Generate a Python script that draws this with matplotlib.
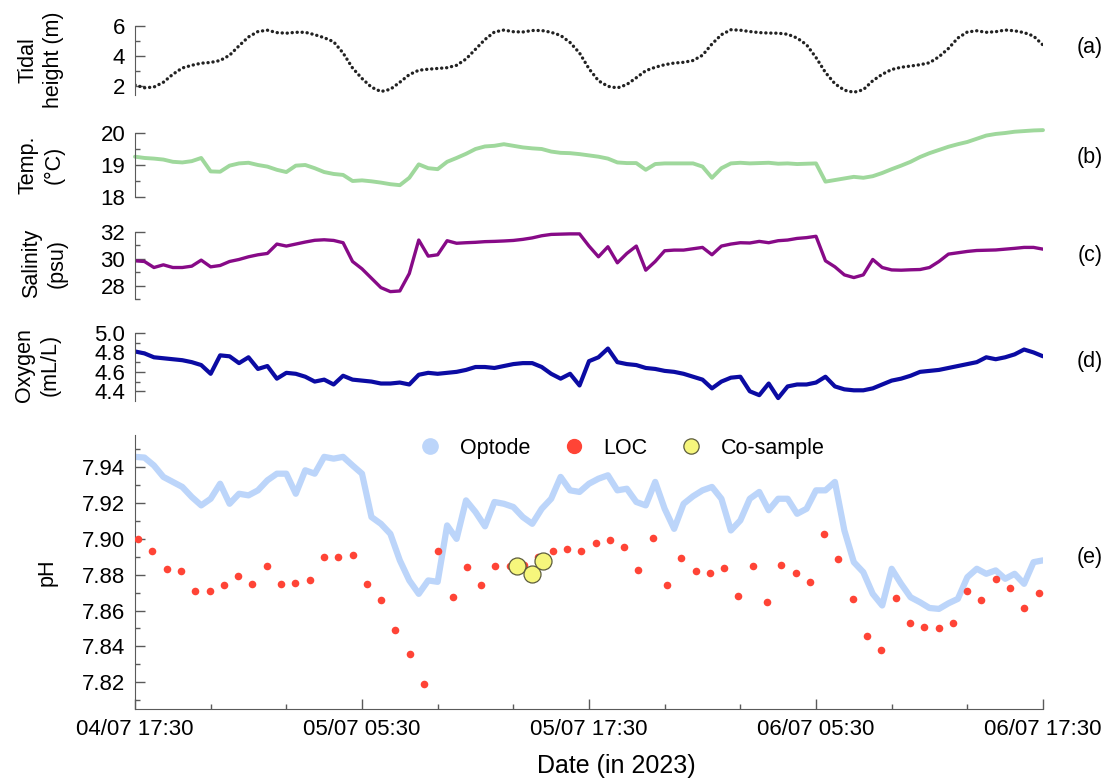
import numpy as np
import pandas as pd
import matplotlib
matplotlib.use("Agg")
import matplotlib.pyplot as plt
import matplotlib.dates as mdates
from matplotlib.lines import Line2D

plt.rcParams['font.family'] = ['Liberation Sans', 'DejaVu Sans']

# ---- data (half-hourly sensor readings, 04/07 17:30 -> 06/07 17:30) ----
t_start = '2023-07-04 17:30'

tide_m = [
    2.07, 1.88, 1.93, 2.25, 2.78, 3.20, 3.38, 3.52, 3.57, 3.70,
    4.05, 4.68, 5.27, 5.63, 5.72, 5.56, 5.52, 5.58, 5.58, 5.42,
    5.22, 4.95, 4.20, 3.20, 2.50, 1.92, 1.63, 1.78, 2.25, 2.76,
    3.05, 3.12, 3.17, 3.22, 3.38, 3.80, 4.45, 5.10, 5.60, 5.73,
    5.62, 5.60, 5.70, 5.70, 5.58, 5.37, 4.90, 4.20, 3.15, 2.35,
    1.98, 1.87, 2.10, 2.55, 3.02, 3.25, 3.42, 3.53, 3.58, 3.70,
    4.05, 4.80, 5.42, 5.75, 5.72, 5.63, 5.56, 5.53, 5.52, 5.45,
    5.20, 4.75, 3.90, 2.90, 2.15, 1.72, 1.58, 1.75, 2.35, 2.78,
    3.10, 3.25, 3.33, 3.42, 3.55, 3.95, 4.50, 5.20, 5.60, 5.68,
    5.58, 5.62, 5.73, 5.68, 5.56, 5.33, 4.73,
]

temp_c = [
    19.26, 19.22, 19.20, 19.17, 19.10, 19.08, 19.12, 19.22, 18.80, 18.79,
    18.98, 19.05, 19.07, 19.00, 18.95, 18.85, 18.78, 18.98, 19.00, 18.90,
    18.78, 18.72, 18.69, 18.50, 18.52, 18.49, 18.45, 18.40, 18.37, 18.60,
    19.02, 18.90, 18.87, 19.10, 19.22, 19.35, 19.50, 19.58, 19.60, 19.65,
    19.60, 19.55, 19.52, 19.50, 19.42, 19.38, 19.37, 19.34, 19.30, 19.26,
    19.20, 19.08, 19.06, 19.06, 18.85, 19.03, 19.05, 19.05, 19.05, 19.05,
    18.95, 18.60, 18.90, 19.05, 19.07, 19.05, 19.06, 19.07, 19.04, 19.05,
    19.03, 19.04, 19.05, 18.48, 18.53, 18.58, 18.63, 18.60, 18.65, 18.75,
    18.87, 18.98, 19.10, 19.25, 19.37, 19.47, 19.57, 19.65, 19.72, 19.82,
    19.92, 19.97, 20.00, 20.04, 20.06, 20.08, 20.09,
]

salinity_psu = [
    29.85, 29.80, 29.35, 29.55, 29.35, 29.35, 29.45, 29.90, 29.40, 29.50,
    29.80, 29.95, 30.15, 30.30, 30.40, 31.10, 30.95, 31.10, 31.25, 31.38,
    31.42, 31.37, 31.20, 29.80, 29.25, 28.55, 27.85, 27.55, 27.60, 28.90,
    31.40, 30.20, 30.30, 31.35, 31.16, 31.20, 31.23, 31.28, 31.30, 31.33,
    31.37, 31.45, 31.56, 31.72, 31.82, 31.84, 31.86, 31.86, 30.95, 30.15,
    30.90, 29.70, 30.40, 30.95, 29.15, 29.80, 30.60, 30.65, 30.65, 30.75,
    30.85, 30.30, 30.95, 31.10, 31.20, 31.18, 31.30, 31.20, 31.35, 31.40,
    31.52, 31.58, 31.68, 29.85, 29.40, 28.80, 28.60, 28.80, 29.95, 29.35,
    29.17, 29.15, 29.18, 29.20, 29.35, 29.80, 30.35, 30.45, 30.55, 30.62,
    30.64, 30.66, 30.72, 30.78, 30.85, 30.85, 30.72,
]

oxygen_mll = [
    4.81, 4.79, 4.75, 4.74, 4.73, 4.72, 4.70, 4.67, 4.58, 4.77,
    4.76, 4.69, 4.75, 4.63, 4.66, 4.53, 4.59, 4.58, 4.55, 4.50,
    4.52, 4.47, 4.56, 4.52, 4.51, 4.50, 4.48, 4.48, 4.49, 4.47,
    4.57, 4.59, 4.58, 4.59, 4.60, 4.62, 4.65, 4.65, 4.64, 4.66,
    4.68, 4.69, 4.69, 4.65, 4.58, 4.53, 4.58, 4.46, 4.71, 4.75,
    4.84, 4.70, 4.68, 4.67, 4.64, 4.63, 4.61, 4.60, 4.58, 4.55,
    4.52, 4.43, 4.50, 4.54, 4.55, 4.40, 4.36, 4.48, 4.33, 4.45,
    4.47, 4.47, 4.49, 4.55, 4.45, 4.42, 4.41, 4.41, 4.43, 4.47,
    4.51, 4.53, 4.56, 4.60, 4.61, 4.62, 4.64, 4.66, 4.68, 4.70,
    4.75, 4.73, 4.75, 4.78, 4.83, 4.80, 4.76,
]

ph_optode = [
    7.9458, 7.9454, 7.9410, 7.9346, 7.9318, 7.9290, 7.9234, 7.9187, 7.9224, 7.9308,
    7.9196, 7.9252, 7.9243, 7.9271, 7.9327, 7.9364, 7.9364, 7.9252, 7.9383, 7.9364,
    7.9458, 7.9448, 7.9458, 7.9410, 7.9364, 7.9122, 7.9084, 7.9028, 7.8880, 7.8768,
    7.8693, 7.8768, 7.8760, 7.9075, 7.9000, 7.9215, 7.9150, 7.9070, 7.9206, 7.9196,
    7.9178, 7.9122, 7.9084, 7.9168, 7.9224, 7.9346, 7.9271, 7.9262, 7.9308, 7.9336,
    7.9355, 7.9271, 7.9280, 7.9206, 7.9187, 7.9318, 7.9168, 7.9056, 7.9196, 7.9238,
    7.9271, 7.9290, 7.9224, 7.9047, 7.9103, 7.9224, 7.9262, 7.9160, 7.9224, 7.9224,
    7.9140, 7.9168, 7.9271, 7.9271, 7.9318, 7.9047, 7.8870, 7.8814, 7.8693, 7.8628,
    7.8833, 7.8749, 7.8674, 7.8646, 7.8614, 7.8609, 7.8640, 7.8665, 7.8786, 7.8833,
    7.8805, 7.8824, 7.8777, 7.8805, 7.8749, 7.8870, 7.8880,
]

# lab-on-chip pH samples (about every 45 min from 17:40)
ph_loc = [
    7.9000, 7.8930, 7.8830, 7.8820, 7.8710, 7.8710, 7.8745, 7.8790, 7.8750, 7.8846,
    7.8750, 7.8756, 7.8770, 7.8896, 7.8896, 7.8910, 7.8750, 7.8660, 7.8490, 7.8355,
    7.8187, 7.8930, 7.8674, 7.8842, 7.8745, 7.8850, 7.8850, 7.8855, 7.8896, 7.8930,
    7.8945, 7.8932, 7.8976, 7.8995, 7.8956, 7.8825, 7.9004, 7.8740, 7.8894, 7.8820,
    7.8808, 7.8835, 7.8680, 7.8851, 7.8650, 7.8855, 7.8812, 7.8760, 7.9029, 7.8889,
    7.8667, 7.8460, 7.8380, 7.8670, 7.8530, 7.8508, 7.8503, 7.8529, 7.8708, 7.8657,
    7.8775, 7.8723, 7.8613, 7.8700,
]

cosample_times = ['2023-07-05 13:42', '2023-07-05 14:30', '2023-07-05 15:04']
ph_cosample = [7.8851, 7.8804, 7.8874]

panel_tags = ['(a)', '(b)', '(c)', '(d)', '(e)']

# ---- time axes ----
t_sensor = pd.date_range(t_start, periods=len(tide_m), freq='30min')
t_loc = pd.date_range('2023-07-04 17:40', periods=len(ph_loc), freq='2720s')
t_co = pd.to_datetime(cosample_times)
t_major = pd.date_range(t_start, periods=5, freq='12h')
t_minor = pd.date_range(t_start, periods=13, freq='4h')

W, H = 1108, 781
fig = plt.figure(figsize=(W / 100, H / 100), dpi=100)


def box(top, bottom):
    # axes rectangle from pixel rows, shared left/right edges
    return [135 / W, 1 - bottom / H, (1043 - 135) / W, (bottom - top) / H]


spine_col = '#5a5a5a'


def style(ax, show_x=False):
    for s in ['top', 'right']:
        ax.spines[s].set_visible(False)
    ax.spines['left'].set_color(spine_col)
    ax.spines['bottom'].set_color(spine_col)
    ax.tick_params(which='both', direction='in', color=spine_col, width=1.0,
                   labelsize=16, pad=7)
    ax.tick_params(which='major', length=7)
    ax.tick_params(which='minor', length=3.5)
    ax.set_xlim(t_major[0], t_major[-1])
    ax.xaxis.set_major_locator(plt.FixedLocator(mdates.date2num(t_major)))
    ax.xaxis.set_minor_locator(plt.FixedLocator(mdates.date2num(t_minor)))
    if show_x:
        ax.xaxis.set_major_formatter(mdates.DateFormatter('%d/%m %H:%M'))
    else:
        ax.spines['bottom'].set_visible(False)
        ax.tick_params(axis='x', which='both', bottom=False, labelbottom=False)


ax_a = fig.add_axes(box(26, 95))
ax_b = fig.add_axes(box(133, 197))
ax_c = fig.add_axes(box(232, 299))
ax_d = fig.add_axes(box(333, 401))
ax_e = fig.add_axes(box(435, 709))

band = dict(solid_joinstyle='round', solid_capstyle='round')

# (a) tidal height
ax_a.plot(t_sensor, tide_m, color='#222222', lw=2.4, linestyle=(0, (0.05, 1.45)),
          dash_capstyle='round')
ax_a.set_ylim(1.4, 6.0)
ax_a.set_yticks([2, 4, 6])
ax_a.set_yticks([3, 5], minor=True)
style(ax_a)

# (b) temperature
ax_b.plot(t_sensor, temp_c, color='#9fd89c', lw=2.8, clip_on=False, **band)
ax_b.set_ylim(18, 20)
ax_b.set_yticks([18, 19, 20])
ax_b.set_yticks([18.5, 19.5], minor=True)
style(ax_b)

# (c) salinity
ax_c.plot(t_sensor, salinity_psu, color='#870a87', lw=2.4, **band)
ax_c.set_ylim(27, 32)
ax_c.set_yticks([28, 30, 32])
ax_c.set_yticks([27, 29, 31], minor=True)
style(ax_c)

# (d) dissolved oxygen
ax_d.plot(t_sensor, oxygen_mll, color='#0b0ba3', lw=3.0, **band)
ax_d.set_ylim(4.3, 5.0)
ax_d.set_yticks([4.4, 4.6, 4.8, 5.0])
ax_d.set_yticklabels(['4.4', '4.6', '4.8', '5.0'])
ax_d.set_yticks([4.5, 4.7, 4.9], minor=True)
style(ax_d)

# (e) pH: optode, LOC and co-samples
ax_e.plot(t_sensor, ph_optode, color='#bcd5fa', lw=4.5, **band)
ax_e.scatter(t_loc, ph_loc, s=30, color='#ff4436', zorder=3, linewidths=0)
ax_e.scatter(t_co, ph_cosample, s=150, color='#f6f67c', edgecolors='#5c5c3c',
             linewidths=0.9, zorder=4)
ax_e.set_ylim(7.805, 7.958)
ax_e.set_yticks(np.arange(7.82, 7.95, 0.02))
ax_e.set_yticklabels([f'{v:.2f}' for v in np.arange(7.82, 7.95, 0.02)])
ax_e.set_yticks(np.arange(7.81, 7.96, 0.02), minor=True)
style(ax_e, show_x=True)

handles = [
    Line2D([], [], ls='', marker='o', ms=11, color='#bcd5fa'),
    Line2D([], [], ls='', marker='o', ms=10, color='#ff4436'),
    Line2D([], [], ls='', marker='o', ms=11, markerfacecolor='#f6f67c',
           markeredgecolor='#5c5c3c', markeredgewidth=0.9),
]
ax_e.legend(handles, ['Optode', 'LOC', 'Co-sample'], ncol=3, frameon=False,
            fontsize=15.5, loc='center',
            bbox_to_anchor=((622 - 135) / 908, 1 - (448 - 435) / 274),
            handlelength=1.0, handletextpad=0.9, columnspacing=1.5, borderaxespad=0)

fig.text(616 / W, 1 - 766 / H, 'Date (in 2023)', ha='center', va='center', fontsize=18)

# y labels and panel tags
ylabels = [('Tidal\nheight (m)', 41, 60), ('Temp.\n(°C)', 41, 165),
           ('Salinity\n(psu)', 44, 263), ('Oxygen\n(mL/L)', 37, 365), ('pH', 47, 572)]
for txt, x, y in ylabels:
    fig.text(x / W, 1 - y / H, txt, rotation=90, ha='center', va='center',
             fontsize=15.5, linespacing=1.3, multialignment='center')

for tag, y in zip(panel_tags, [48, 157, 255, 362, 557]):
    fig.text(1090 / W, 1 - y / H, tag, ha='center', va='center', fontsize=15.5)

fig.savefig('out.png', dpi=100)
